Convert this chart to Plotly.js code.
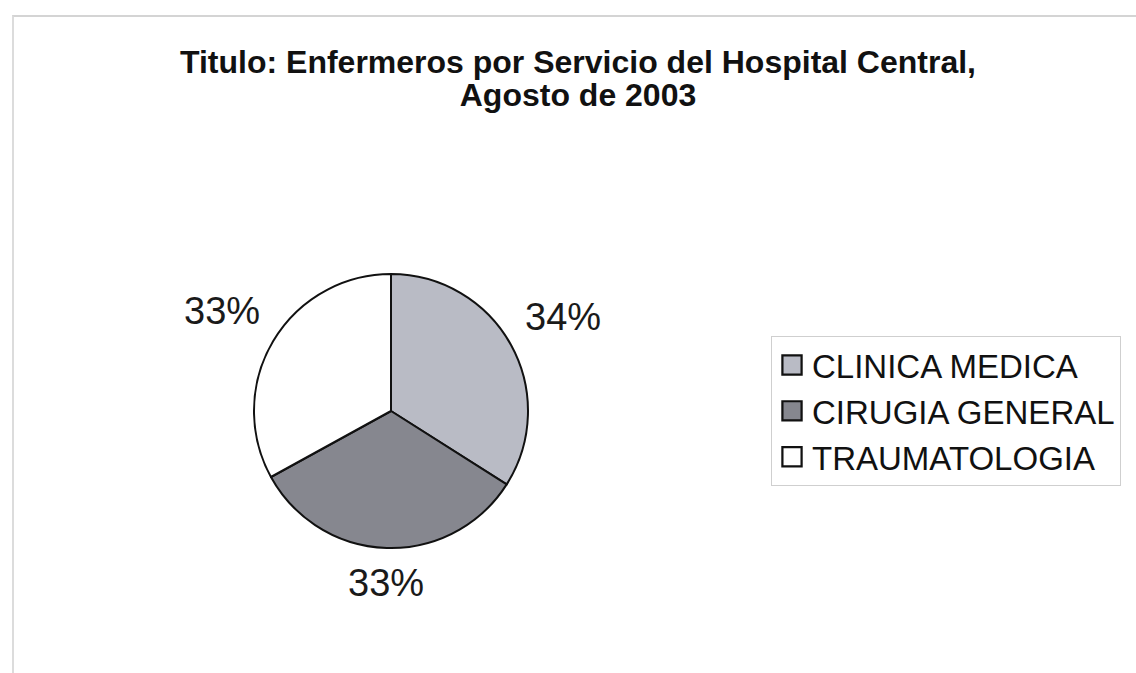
<!DOCTYPE html>
<html>
<head>
<meta charset="utf-8">
<script src="https://cdn.plot.ly/plotly-3.0.1.min.js"></script>
<style>
  html, body { margin: 0; padding: 0; background: #ffffff; }
  #wrap { position: relative; width: 1136px; height: 673px; }
  #chart { position: absolute; left: 0; top: 0; width: 1136px; height: 673px; }
  #frame { position: absolute; left: 12px; top: 15px; right: 0; bottom: 0;
           border-top: 2px solid #d4d4d4; border-left: 2px solid #dcdcdc; pointer-events: none; }
</style>
</head>
<body>
<div id="wrap">
  <div id="chart"></div>
  <div id="frame"></div>
</div>
<script>
const categories = ["CLINICA MEDICA", "CIRUGIA GENERAL", "TRAUMATOLOGIA"];
const percentages = [34, 33, 33];
const sliceColors = ["#b9bbc5", "#86878f", "#ffffff"];
const titleText = "Titulo: Enfermeros por Servicio del Hospital Central,<br>Agosto de 2003";

const W = 1136, H = 673;
const cx = 391, cy = 411, r = 137;
const FONT = "Arial, 'Liberation Sans', sans-serif";
const labelSize = 38;

const trace = {
  type: "pie",
  labels: categories,
  values: percentages,
  sort: false,
  direction: "clockwise",
  rotation: 0,
  marker: { colors: sliceColors, line: { color: "#111111", width: 2 } },
  textinfo: "none",
  automargin: false,
  hoverinfo: "label+percent",
  domain: { x: [(cx - r) / W, (cx + r) / W], y: [(H - cy - r) / H, (H - cy + r) / H] }
};

// outside percentage labels, placed from each slice's mid-angle
const total = percentages.reduce((a, b) => a + b, 0);
const annotations = [];
let cum = 0;
percentages.forEach((v) => {
  const mid = (cum + v / 2) / total * 2 * Math.PI;
  cum += v;
  const dx = Math.sin(mid), dy = -Math.cos(mid);
  const txt = Math.round(v / total * 100) + "%";
  const halfW = txt.length * 0.67 * labelSize / 2, halfH = 0.42 * labelSize;
  const R = r + 18 + halfW * Math.abs(dx) + halfH * Math.abs(dy);
  annotations.push({
    text: txt, showarrow: false,
    xref: "paper", yref: "paper",
    x: (cx + R * dx) / W, y: 1 - (cy + R * dy) / H,
    xanchor: "center", yanchor: "middle",
    font: { family: FONT, size: labelSize, color: "#1a1a1a" }
  });
});

const layout = {
  width: W, height: H,
  margin: { l: 0, r: 0, t: 0, b: 0 },
  paper_bgcolor: "#ffffff",
  title: {
    text: titleText,
    font: { family: FONT, size: 32, color: "#111111", weight: "bold" },
    x: 578 / W, xanchor: "center",
    y: 1 - 73 / H, yanchor: "top"
  },
  annotations: annotations,
  showlegend: true,
  legend: {
    x: 771 / W, xanchor: "left",
    y: 1 - 336 / H, yanchor: "top",
    bordercolor: "#cfcfcf", borderwidth: 1,
    bgcolor: "rgba(255,255,255,0)",
    font: { family: FONT, size: 33, color: "#111111" },
    traceorder: "normal"
  }
};

Plotly.newPlot("chart", [trace], layout, { displayModeBar: false, staticPlot: true }).then((gd) => {
  // tighter title line spacing (as in the original)
  gd.querySelectorAll(".gtitle tspan.line").forEach((t, i) => {
    if (i > 0) t.setAttribute("dy", "1.03em");
  });
  // larger legend swatches with heavy outline
  gd.querySelectorAll(".legend .legendpoints path").forEach((p) => {
    const prev = p.getAttribute("transform") || "";
    p.setAttribute("transform", prev + " scale(1.6)");
    p.style.strokeWidth = "1.4px";
  });
});
</script>
</body>
</html>
